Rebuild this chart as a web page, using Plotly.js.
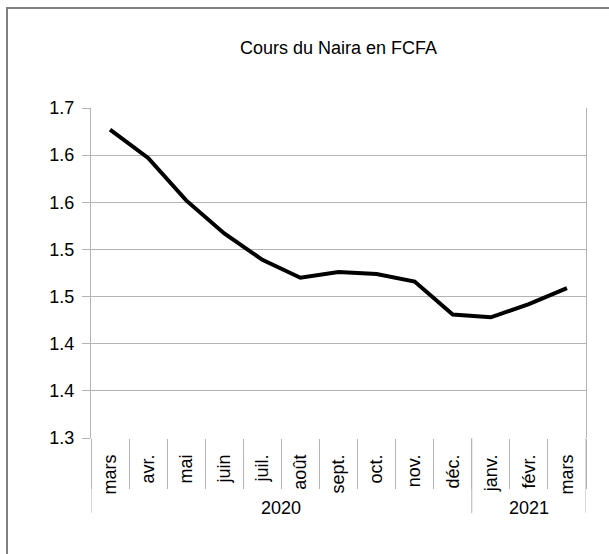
<!DOCTYPE html>
<html>
<head>
<meta charset="utf-8">
<script src="https://cdn.plot.ly/plotly-3.0.1.min.js"></script>
<style>
  body { margin: 0; background: #fff; }
  #frame { position: absolute; left: 6px; top: 7px; width: 640px; height: 600px;
           border-left: 2px solid #808080; border-top: 2px solid #808080; }
  #chart { position: absolute; left: 0; top: 0; width: 609px; height: 554px; }
</style>
</head>
<body>
<div id="frame"></div>
<div id="chart"></div>
<script>
var years = ["2020", "2020", "2020", "2020", "2020", "2020", "2020", "2020", "2020", "2020", "2021", "2021", "2021"];
var months = ["mars", "avr.", "mai", "juin", "juil.", "août", "sept.", "oct.", "nov.", "déc.", "janv.", "févr.", "mars"];
var rates = [1.627, 1.597, 1.552, 1.517, 1.489, 1.470, 1.476, 1.474, 1.466, 1.431, 1.428, 1.442, 1.459];

var yTicks = [1.30, 1.35, 1.40, 1.45, 1.50, 1.55, 1.60, 1.65];
var yTickText = ["1.3", "1.4", "1.4", "1.5", "1.5", "1.6", "1.6", "1.7"];

// unique category keys, the month names go back on as tick text
var keys = months.map((m, i) => m + " " + years[i]);

// year groups: first and last index of each year
var groups = [];
years.forEach((y, i) => {
  if (!groups.length || groups[groups.length - 1].year !== y) groups.push({ year: y, first: i, last: i });
  else groups[groups.length - 1].last = i;
});

var divY = -0.227;   // how far the group dividers drop below the plot (paper units)
var shapes = [];
var annotations = [];
groups.forEach((g, k) => {
  if (k === 0) shapes.push({ type: "line", xref: "x", yref: "paper", x0: g.first - 0.5, x1: g.first - 0.5, y0: 0, y1: divY, line: { color: "#b3b3b3", width: 1 } });
  shapes.push({ type: "line", xref: "x", yref: "paper", x0: g.last + 0.5, x1: g.last + 0.5, y0: 0, y1: divY, line: { color: "#b3b3b3", width: 1 } });
  annotations.push({ text: g.year, xref: "x", yref: "paper", x: (g.first + g.last) / 2, y: -0.212, yanchor: "middle", showarrow: false, font: { size: 18 } });
});

var data = [{
  type: "scatter",
  mode: "lines",
  x: keys,
  y: rates,
  line: { color: "#000000", width: 4 },
  hoverinfo: "y"
}];

var layout = {
  width: 609,
  height: 554,
  margin: { l: 91, r: 23, t: 108, b: 116 },
  paper_bgcolor: "rgba(0,0,0,0)",
  plot_bgcolor: "#ffffff",
  font: { family: "Liberation Sans, Arial, sans-serif", size: 18, color: "#000000" },
  title: { text: "Cours du Naira en FCFA", x: 0.5, xref: "paper", y: 0.913, yanchor: "middle", font: { size: 18 } },
  showlegend: false,
  shapes: shapes,
  annotations: annotations,
  xaxis: {
    type: "category",
    range: [-0.5, 12.5],
    tickvals: keys,
    ticktext: months,
    showgrid: false,
    showline: false,
    zeroline: false,
    ticks: "outside",
    tickson: "boundaries",
    ticklen: 50,
    tickcolor: "#b3b3b3",
    tickangle: -90,
    ticklabelstandoff: 12
  },
  yaxis: {
    range: [1.30, 1.65],
    tickvals: yTicks,
    ticktext: yTickText,
    showgrid: true,
    gridcolor: "#b3b3b3",
    showline: true,
    mirror: true,
    linecolor: "#b3b3b3",
    zeroline: false,
    ticks: "outside",
    ticklen: 8,
    tickcolor: "#b3b3b3",
    ticklabelstandoff: 4
  }
};

Plotly.newPlot("chart", data, layout, { displayModeBar: false, staticPlot: true });
</script>
</body>
</html>
